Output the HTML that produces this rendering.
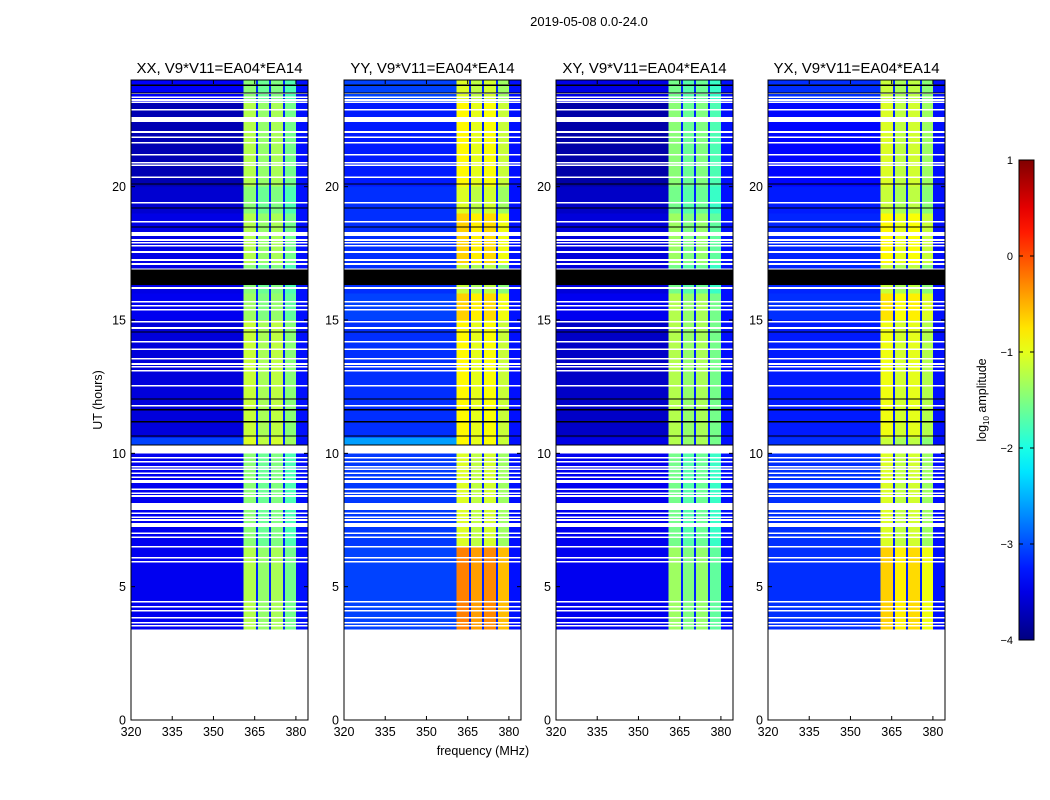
<!DOCTYPE html>
<html><head><meta charset="utf-8"><style>
body{margin:0;background:#fff;}
svg{display:block;font-family:"Liberation Sans","DejaVu Sans",sans-serif;}
</style></head><body>
<svg id="fig" width="1050" height="800" viewBox="0 0 1050 800" xmlns="http://www.w3.org/2000/svg">
<rect width="1050" height="800" fill="#fff"/>
<text x="589" y="26" font-size="13" text-anchor="middle">2019-05-08 0.0-24.0</text>
<g id="panels"></g>
<g id="cbar"></g>
</svg>
<script>
const panelTitles = ["XX, V9*V11=EA04*EA14","YY, V9*V11=EA04*EA14","XY, V9*V11=EA04*EA14","YX, V9*V11=EA04*EA14"];
const xTicks = [320,335,350,365,380];
const yTicks = [0,5,10,15,20];
const cbTicks = [1,0,-1,-2,-3,-4];
const freqEdges = [320,361,365.5,366.2,370.3,371,375.3,376,380,384.4];
const freqKind = ["bg","rfi","gap","rfi","gap","rfi","gap","rfi","tail"];
const rfiBandOffset = [0.15,0,0.1,-0.15];
const segEdges = [3.4,6.5,10.3,10.6,15.0,16.0,17.1,19.0,20.0,23.2,24.0];
const bgLevels = [
 [-3.45,-3.45,-3.05,-3.55,-3.45,-3.5,-3.5,-3.6,-3.75,-3.4],
 [-3.05,-3.1,-2.6,-3.15,-3.05,-3.15,-3.15,-3.15,-3.25,-3.05],
 [-3.45,-3.45,-3.5,-3.65,-3.45,-3.55,-3.55,-3.65,-3.8,-3.5],
 [-3.15,-3.15,-3.15,-3.25,-3.15,-3.2,-3.2,-3.25,-3.35,-3.15]];
const rfiLevels = [
 [-1.4,-1.6,-1.2,-1.3,-1.5,-1.6,-1.4,-1.6,-1.4,-1.6],
 [-0.4,-1.2,-1.0,-1.0,-0.8,-1.3,-0.8,-1.2,-1.0,-1.2],
 [-1.5,-1.7,-1.4,-1.4,-1.4,-1.7,-1.5,-1.7,-1.6,-1.7],
 [-0.8,-1.2,-1.3,-1.1,-0.9,-1.3,-1.0,-1.3,-1.2,-1.3]];
const gapLevel = -3.2, tailLevel = -3.3;
const whiteFlags = [23.51,23.36,23.25,23.17,22.88,22.52,22.05,21.86,21.64,21.19,20.89,20.81,20.36,19.39,18.68,18.22,18.0,17.89,17.78,17.55,17.25,17.1,16.91,16.2,15.68,15.53,15.38,14.93,14.7,14.18,13.91,13.54,13.35,13.24,13.09,12.53,11.78,10.15,9.83,9.68,9.49,9.41,9.26,9.11,8.95,8.66,8.51,8.4,8.01,7.76,7.61,7.5,7.31,7.01,6.86,6.49,6.08,5.93,4.43,4.24,4.09,3.83,3.64,3.53];
const whiteWidths = [0.06,0.06,0.06,0.06,0.06,0.19,0.06,0.06,0.06,0.06,0.06,0.06,0.06,0.06,0.06,0.15,0.06,0.06,0.06,0.06,0.06,0.06,0.06,0.08,0.06,0.06,0.06,0.06,0.06,0.06,0.06,0.06,0.06,0.06,0.06,0.06,0.06,0.3,0.06,0.06,0.06,0.06,0.06,0.06,0.11,0.06,0.06,0.06,0.26,0.06,0.06,0.06,0.15,0.06,0.06,0.06,0.06,0.06,0.06,0.06,0.06,0.06,0.06,0.06];
const blackFlags = [23.81,23.51,20.1,19.2,18.49,16.6,14.55,12.04,11.63,11.18,10.65,10.31];
const blackWidths = [0.06,0.05,0.05,0.05,0.05,0.57,0.05,0.05,0.05,0.05,0.05,0.05];

const NS="http://www.w3.org/2000/svg";
const panelX=[131,344,556,768], pw=177, py0=80, py1=720;
const fMin=320,fMax=384.4,tMin=0,tMax=24;
const vMin=-4,vMax=1;
function jet(v){let t=(v-vMin)/(vMax-vMin);t=Math.max(0,Math.min(1,t));
 const c=x=>Math.round(255*Math.max(0,Math.min(1,x)));
 return `rgb(${c(1.5-Math.abs(4*t-3))},${c(1.5-Math.abs(4*t-2))},${c(1.5-Math.abs(4*t-1))})`;}
function mk(tag,attrs,parent){const e=document.createElementNS(NS,tag);for(const k in attrs)e.setAttribute(k,attrs[k]);parent.appendChild(e);return e;}
const root=document.getElementById('panels');
panelTitles.forEach((title,p)=>{
 const x0=panelX[p];
 const X=f=>x0+(f-fMin)/(fMax-fMin)*pw;
 const Y=t=>py1-(t-tMin)/(tMax-tMin)*(py1-py0);
 const g=mk('g',{},root);
 
 
 const hm=mk('g',{'shape-rendering':'crispEdges'},g);
 
 
 for(let s=0;s<segEdges.length-1;s++){
  let rb=0;
  for(let b=0;b<freqKind.length;b++){
   const k=freqKind[b];let v;
   if(k==='bg')v=bgLevels[p][s];
   else if(k==='rfi'){v=rfiLevels[p][s]+rfiBandOffset[rb];rb++;}
   else if(k==='gap')v=gapLevel;else v=tailLevel;
   const r=mk('rect',{x:X(freqEdges[b]),y:Y(segEdges[s+1]),width:X(freqEdges[b+1])-X(freqEdges[b]),height:Y(segEdges[s])-Y(segEdges[s+1]),fill:jet(v)},hm);
   
   
  }
 }
 whiteFlags.forEach((t,i)=>{const w=whiteWidths[i];
  const r=mk('rect',{x:x0,y:Y(t+w/2),width:pw,height:Math.max(1.2,Y(t-w/2)-Y(t+w/2)),fill:'#fff'},hm);
  
  });
 blackFlags.forEach((t,i)=>{const w=blackWidths[i];
  const r=mk('rect',{x:x0,y:Y(t+w/2),width:pw,height:Math.max(1.2,Y(t-w/2)-Y(t+w/2)),fill:'#000'},hm);
  
  });
 const fr=mk('rect',{x:x0,y:py0,width:pw,height:py1-py0,fill:'none',stroke:'#000','stroke-width':1},g);
 
 
 const tt=mk('text',{x:x0+pw/2,y:73,'font-size':15,'text-anchor':'middle'},g);
 tt.textContent=title;
 
 
 xTicks.forEach(f=>{const x=X(f);
  mk('line',{x1:x,x2:x,y1:py1,y2:py1-4,stroke:'#000'},g);
  mk('line',{x1:x,x2:x,y1:py0,y2:py0+4,stroke:'#000'},g);
  const t=mk('text',{x:x,y:py1+16,'font-size':12.5,'text-anchor':'middle'},g);t.textContent=f;
  
  });
 yTicks.forEach(v=>{const y=Y(v);
  mk('line',{x1:x0,x2:x0+4,y1:y,y2:y,stroke:'#000'},g);
  mk('line',{x1:x0+pw,x2:x0+pw-4,y1:y,y2:y,stroke:'#000'},g);
  const t=mk('text',{x:x0-5,y:y+4.5,'font-size':12.5,'text-anchor':'end'},g);t.textContent=v;
  
  });
});
const yl=mk('text',{x:102,y:400,'font-size':12.5,'text-anchor':'middle',transform:'rotate(-90 102 400)'},root);
yl.textContent='UT (hours)';


const xl=mk('text',{x:483,y:755,'font-size':12.5,'text-anchor':'middle'},root);
xl.textContent='frequency (MHz)';


const cb=document.getElementById('cbar');


const cx=1019,cw=15,cy0=160,cy1=640;
const CY=v=>cy1-(v-vMin)/(vMax-vMin)*(cy1-cy0);
const defs=mk('defs',{},cb);
const lg=mk('linearGradient',{id:'jetg',x1:0,y1:1,x2:0,y2:0},defs);
for(let i=0;i<=20;i++){mk('stop',{offset:i/20,'stop-color':jet(vMin+(vMax-vMin)*i/20)},lg);}
mk('rect',{x:cx,y:cy0,width:cw,height:cy1-cy0,fill:'url(#jetg)',stroke:'#000'},cb);
cbTicks.forEach(v=>{const y=CY(v);
 mk('line',{x1:cx,x2:cx+4,y1:y,y2:y,stroke:'#000'},cb);
 mk('line',{x1:cx+cw,x2:cx+cw-4,y1:y,y2:y,stroke:'#000'},cb);
 const t=mk('text',{x:1013,y:y+4,'font-size':11,'text-anchor':'end'},cb);t.textContent=v===0?'0':(v<0?'\u2212'+(-v):v);
 
 });
const cl=mk('text',{x:986,y:400,'font-size':12.5,'text-anchor':'middle',transform:'rotate(-90 986 400)'},cb);
cl.innerHTML='log<tspan font-size="8" dy="3">10</tspan><tspan dy="-3"> amplitude</tspan>';


</script>
</body></html>
